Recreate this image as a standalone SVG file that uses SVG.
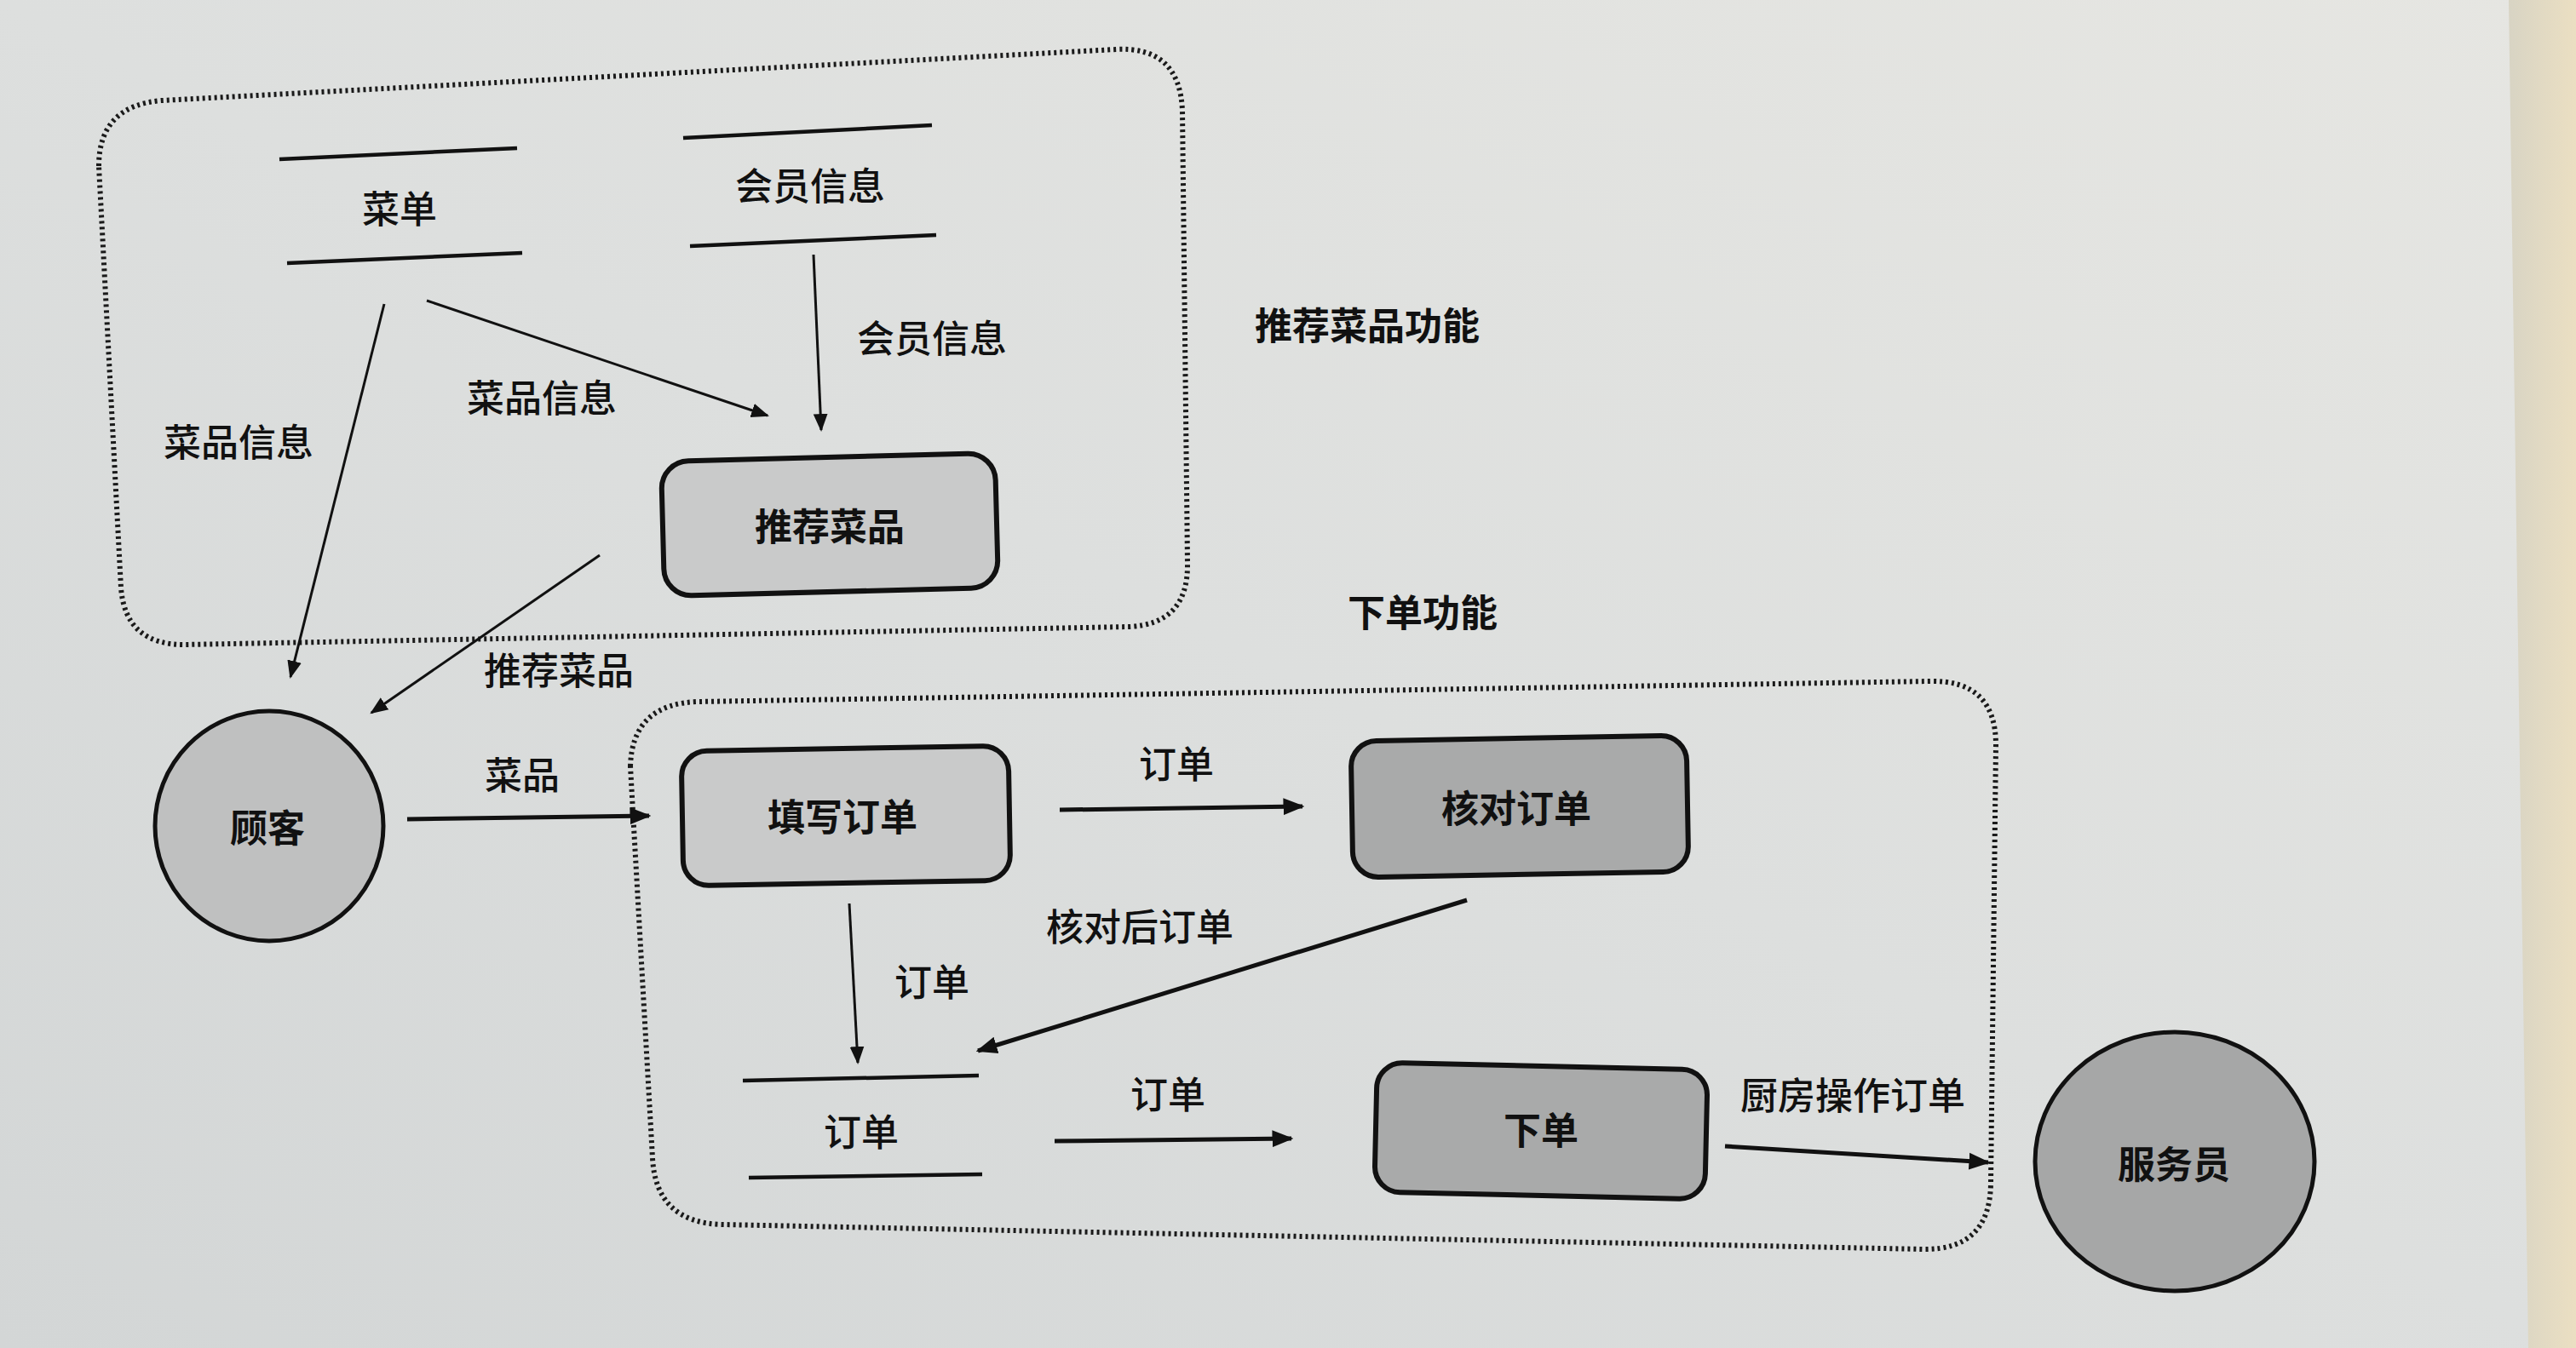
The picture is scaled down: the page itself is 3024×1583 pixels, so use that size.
<svg xmlns="http://www.w3.org/2000/svg" width="3024" height="1583" viewBox="0 0 3024 1583">
<defs>
<linearGradient id="bg" x1="0" y1="1" x2="1" y2="0">
<stop offset="0" stop-color="#d3d6d6"/>
<stop offset="0.5" stop-color="#dddfde"/>
<stop offset="1" stop-color="#e6e6e2"/>
</linearGradient>
<linearGradient id="edge" x1="0" y1="0" x2="1" y2="0">
<stop offset="0" stop-color="#d8d4c4"/>
<stop offset="1" stop-color="#ebdfc2"/>
</linearGradient>
<marker id="ah" viewBox="0 0 10 10" refX="9" refY="5" markerWidth="7" markerHeight="7" markerUnits="strokeWidth" orient="auto">
<path d="M0,1 L10,5 L0,9 Z" fill="#111"/>
</marker>
<marker id="ahs" viewBox="0 0 10 10" refX="9" refY="5" markerWidth="5" markerHeight="5" markerUnits="strokeWidth" orient="auto">
<path d="M0,1 L10,5 L0,9 Z" fill="#111"/>
</marker>
</defs>
<style>
text{font-family:"Noto Sans CJK SC","Noto Sans",sans-serif;fill:#111;text-anchor:middle;dominant-baseline:central}
.lbl{font-size:44px;font-weight:500}
.ttl{font-size:44px;font-weight:bold}
.nt{font-size:44px;font-weight:bold}
.bnd{fill:none;stroke:#1a1a1a;stroke-width:6;stroke-dasharray:3 4}
.store{stroke:#111;stroke-width:4.5;fill:none}
.proc1{fill:#c9caca;stroke:#111;stroke-width:6}
.proc2{fill:#a9aaaa;stroke:#111;stroke-width:6}
.ent1{fill:#bfc0c0;stroke:#111;stroke-width:5}
.ent2{fill:#a6a7a7;stroke:#111;stroke-width:5}
.flow{stroke:#111;stroke-width:3;fill:none;marker-end:url(#ah)}
.flowb{stroke:#111;stroke-width:5;fill:none;marker-end:url(#ahs)}
</style>
<rect x="0" y="0" width="3024" height="1583" fill="url(#bg)"/>
<path d="M2945,0 L3024,0 L3024,1583 L2968,1583 Z" fill="url(#edge)"/>

<g id="boundaries">
<path class="bnd" d="M116,195 Q116,124 190,118 L1310,58 Q1385,54 1388,130 L1394,662 Q1395,733 1325,736 L218,757 Q147,758 142,690 Z"/>
<path class="bnd" d="M740,900 Q742,826 820,824 L2265,800 Q2343,798 2343,875 L2337,1390 Q2336,1468 2258,1467 L848,1438 Q770,1436 766,1360 Z"/>
<text id="title1" class="ttl" x="1605" y="380">推荐菜品功能</text>
<text id="title2" class="ttl" x="1670" y="717">下单功能</text>
</g>

<g id="store-menu">
<line class="store" x1="328" y1="187" x2="607" y2="174"/>
<line class="store" x1="337" y1="309" x2="613" y2="297"/>
<text class="lbl" x="469" y="243">菜单</text>
</g>
<g id="store-member">
<line class="store" x1="802" y1="162" x2="1094" y2="147"/>
<line class="store" x1="810" y1="289" x2="1099" y2="276"/>
<text class="lbl" x="951" y="216">会员信息</text>
</g>
<g id="store-order">
<line class="store" x1="872" y1="1269" x2="1149" y2="1263"/>
<line class="store" x1="879" y1="1383" x2="1153" y2="1379"/>
<text class="lbl" x="1011" y="1327">订单</text>
</g>

<g id="proc-recommend">
<rect class="proc1" x="778" y="537" width="392" height="158" rx="32" transform="rotate(-1.5 974 616)"/>
<text class="nt" x="974" y="616">推荐菜品</text>
</g>
<g id="proc-fill">
<rect class="proc1" x="801" y="879" width="384" height="158" rx="30" transform="rotate(-1 993 958)"/>
<text class="nt" x="989" y="957">填写订单</text>
</g>
<g id="proc-check">
<rect class="proc2" x="1587" y="867" width="394" height="160" rx="30" transform="rotate(-1 1784 947)"/>
<text class="nt" x="1780" y="947">核对订单</text>
</g>
<g id="proc-order">
<rect class="proc2" x="1615" y="1252" width="388" height="152" rx="30" transform="rotate(1.3 1809 1328)"/>
<text class="nt" x="1809" y="1325">下单</text>
</g>

<g id="ent-customer">
<ellipse class="ent1" cx="316" cy="970" rx="134" ry="135"/>
<text class="nt" x="314" y="970">顾客</text>
</g>
<g id="ent-waiter">
<ellipse class="ent2" cx="2553" cy="1364" rx="164" ry="152"/>
<text class="nt" x="2552" y="1365">服务员</text>
</g>

<g id="connectors">
<line class="flow" x1="955" y1="299" x2="964" y2="505"/>
<text class="lbl" x="1094" y="395">会员信息</text>
<line class="flow" x1="501" y1="353" x2="901" y2="488"/>
<text class="lbl" x="636" y="465">菜品信息</text>
<line class="flow" x1="451" y1="357" x2="341" y2="795"/>
<text class="lbl" x="280" y="517">菜品信息</text>
<line class="flow" x1="704" y1="652" x2="436" y2="837"/>
<text class="lbl" x="656" y="785">推荐菜品</text>
<line class="flowb" x1="478" y1="962" x2="762" y2="958"/>
<text class="lbl" x="613" y="908">菜品</text>
<line class="flowb" x1="1244" y1="951" x2="1529" y2="947"/>
<text class="lbl" x="1381" y="895">订单</text>
<line class="flowb" x1="1722" y1="1057" x2="1148" y2="1234"/>
<text class="lbl" x="1338" y="1086">核对后订单</text>
<line class="flow" x1="997" y1="1061" x2="1007" y2="1248"/>
<text class="lbl" x="1094" y="1151">订单</text>
<line class="flowb" x1="1238" y1="1340" x2="1516" y2="1337"/>
<text class="lbl" x="1371" y="1283">订单</text>
<line class="flowb" x1="2025" y1="1346" x2="2334" y2="1365"/>
<text class="lbl" x="2175" y="1284">厨房操作订单</text>
</g>
</svg>
